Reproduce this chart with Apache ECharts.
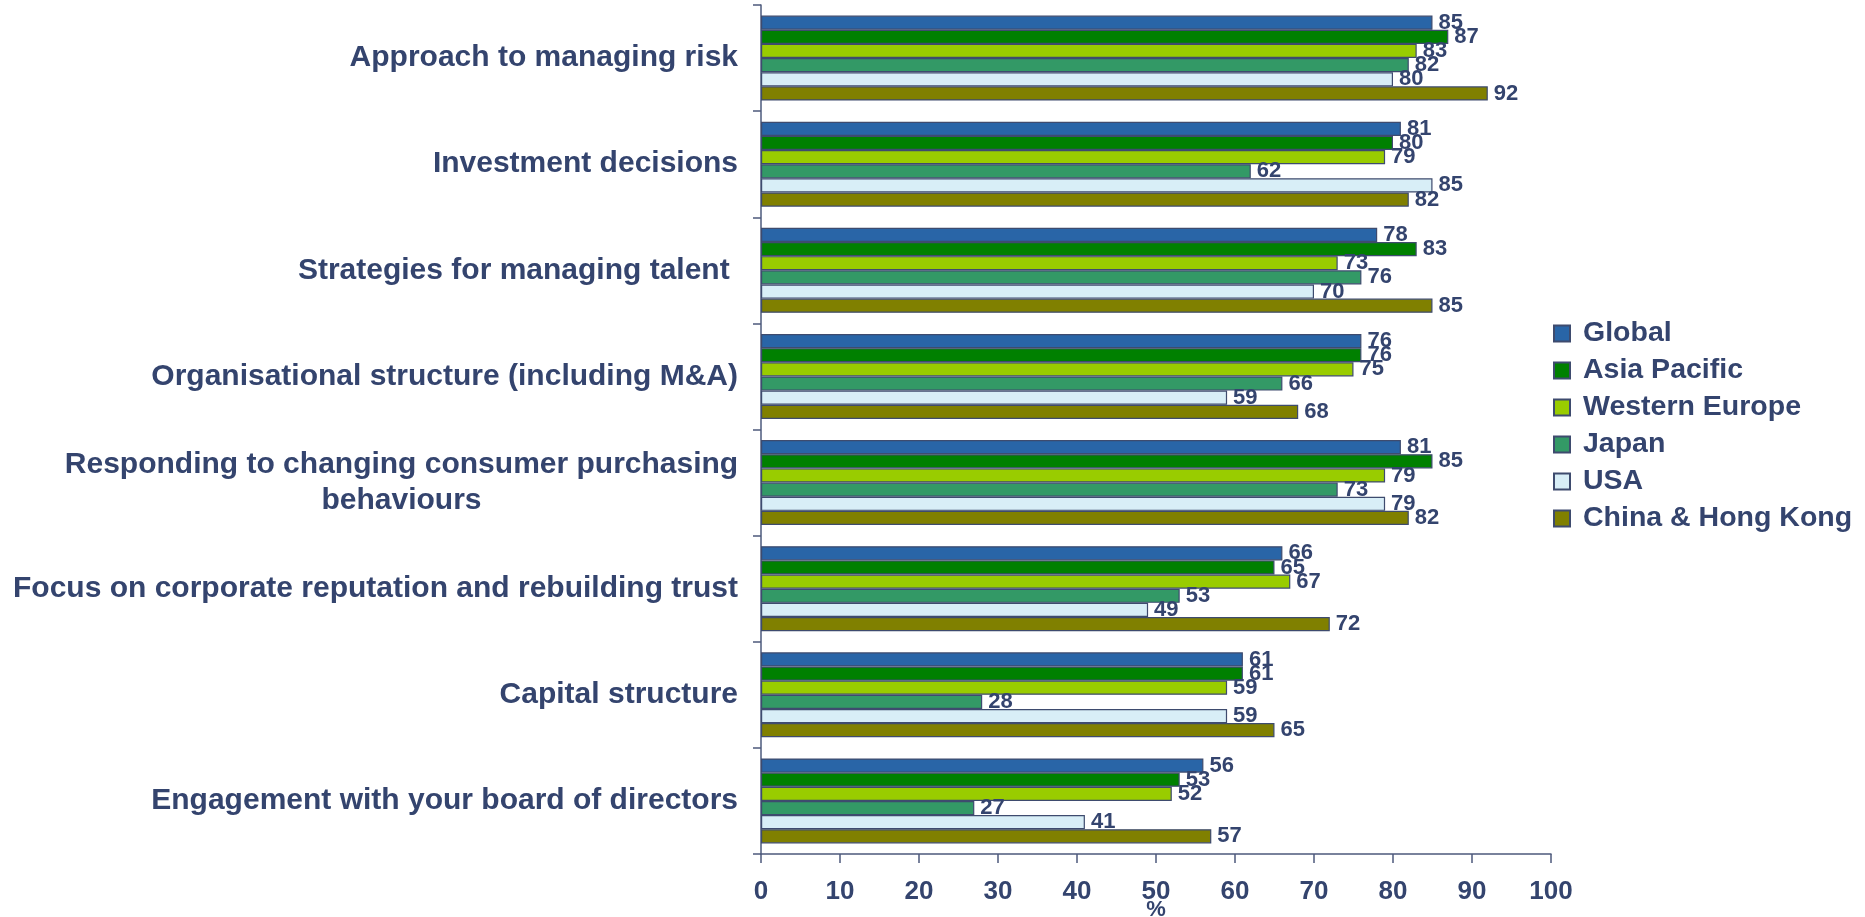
<!DOCTYPE html>
<html>
<head>
<meta charset="utf-8">
<script src="https://cdn.jsdelivr.net/npm/echarts@6/dist/echarts.min.js"></script>
<style>
html,body{margin:0;padding:0;background:#fff;}
#chart{width:1865px;height:917px;}
</style>
</head>
<body>
<div id="chart"></div>
<script>
const categories = [
  "Approach to managing risk",
  "Investment decisions",
  "Strategies for managing talent ",
  "Organisational structure (including M&A)",
  "Responding to changing consumer purchasing\nbehaviours",
  "Focus on corporate reputation and rebuilding trust",
  "Capital structure",
  "Engagement with your board of directors"
];
const seriesNames = ["Global", "Asia Pacific", "Western Europe", "Japan", "USA", "China & Hong Kong"];
const globalVals       = [85, 81, 78, 76, 81, 66, 61, 56];
const asiaPacificVals  = [87, 80, 83, 76, 85, 65, 61, 53];
const westernEuropeVals= [83, 79, 73, 75, 79, 67, 59, 52];
const japanVals        = [82, 62, 76, 66, 73, 53, 28, 27];
const usaVals          = [80, 85, 70, 59, 79, 49, 59, 41];
const chinaHKVals      = [92, 82, 85, 68, 82, 72, 65, 57];
const xTicks = [0, 10, 20, 30, 40, 50, 60, 70, 80, 90, 100];

const colors = ["#2965a7", "#008000", "#99cc00", "#339966", "#d8eef7", "#808000"];
const navy = "#34446e";
const axisCol = "#4d5a7c";
const allVals = [globalVals, asiaPacificVals, westernEuropeVals, japanVals, usaVals, chinaHKVals];

const chart = echarts.init(document.getElementById('chart'), null, {renderer: 'canvas'});
chart.setOption({
  animation: false,
  backgroundColor: '#ffffff',
  textStyle: {fontFamily: 'Liberation Sans, Arial, sans-serif'},
  grid: {left: 761, right: 314, top: 5, bottom: 63, containLabel: false, outerBoundsMode: 'none'},
  legend: {
    orient: 'vertical',
    left: 1548,
    top: 314,
    itemWidth: 16,
    itemHeight: 16,
    itemGap: 8,
    icon: 'rect',
    data: seriesNames,
    textStyle: {color: navy, fontSize: 28.5, fontWeight: 'bold', padding: [0, 0, 0, 8]}
  },
  xAxis: {
    type: 'value',
    min: xTicks[0],
    max: xTicks[xTicks.length - 1],
    interval: 10,
    name: '%',
    nameLocation: 'middle',
    nameGap: 45,
    nameMoveOverlap: false,
    nameTextStyle: {color: navy, fontSize: 22, fontWeight: 'bold', verticalAlign: 'top'},
    axisLine: {show: true, lineStyle: {color: axisCol, width: 1.5}},
    axisTick: {show: true, length: 9, lineStyle: {color: axisCol, width: 1.5}},
    splitLine: {show: false},
    axisLabel: {color: navy, fontSize: 26, fontWeight: 'bold', margin: 25}
  },
  yAxis: {
    type: 'category',
    inverse: true,
    data: categories,
    axisLine: {show: true, lineStyle: {color: axisCol, width: 1.5}},
    axisTick: {show: true, length: 8, lineStyle: {color: axisCol, width: 1.5}},
    axisLabel: {
      color: navy,
      fontSize: 30,
      fontWeight: 'bold',
      margin: 23,
      formatter: function (v) {
        if (v.indexOf('\n') >= 0) {
          return v.split('\n').map(s => '{c|' + s + '}').join('\n');
        }
        return v;
      },
      rich: {
        c: {width: 673, align: 'center', color: navy, fontSize: 30, fontWeight: 'bold', lineHeight: 36}
      }
    }
  },
  series: seriesNames.map((name, i) => ({
    name: name,
    type: 'bar',
    data: allVals[i],
    barGap: '0%',
    barCategoryGap: '20%',
    itemStyle: {color: colors[i], borderColor: '#3e4b6e', borderWidth: 1.2},
    label: {
      show: true,
      position: 'right',
      distance: 6,
      color: navy,
      fontSize: 22,
      fontWeight: 'bold'
    }
  }))
});
</script>
</body>
</html>
